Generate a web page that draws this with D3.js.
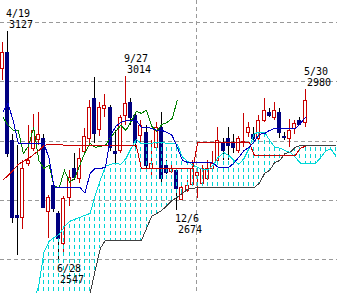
<!DOCTYPE html>
<html lang="ja">
<head>
<meta charset="UTF-8">
<title>週足チャート 一目均衡表</title>
<script src="https://d3js.org/d3.v7.min.js"></script>
<style>
  body { margin: 0; background: #fff; overflow: hidden; }
  svg { display: block; }
  .mark { font-family: "DejaVu Sans Mono", monospace; font-size: 10px; fill: #000; }
</style>
</head>
<body>
<div id="chart"></div>
<script>
const width = 337, height = 293;

// weekly candles, index 0 = the week before 4/19
const opens  = [3033, 3073, 2851, 2661, 2656, 2793, 2831, 2853, 2856, 2671,
                2737, 2666, 2590, 2707, 2780, 2755, 2825, 2856, 2957, 2879,
                2932, 2934, 2825, 2825, 2914, 2947, 2914, 2863, 2871, 2780,
                2833, 2884, 2788, 2775, 2775, 2704, 2724, 2742, 2762, 2745,
                2755, 2780, 2800, 2843, 2856, 2846, 2825, 2846, 2871, 2866,
                2856, 2901, 2922, 2909, 2922, 2861, 2856, 2881, 2901, 2896];
const highs  = [3099, 3127, 2868, 2838, 2800, 2889, 2917, 2922, 2868, 2712,
                2742, 2671, 2709, 2775, 2818, 2831, 2881, 2952, 3010, 2947,
                2967, 2939, 2876, 2914, 3014, 2957, 2922, 2901, 2889, 2851,
                2896, 2922, 2800, 2788, 2782, 2742, 2750, 2800, 2780, 2788,
                2800, 2825, 2884, 2856, 2884, 2868, 2863, 2919, 2896, 2884,
                2914, 2957, 2932, 2947, 2932, 2871, 2906, 2901, 2911, 2980];
const lows   = [3003, 2808, 2643, 2560, 2626, 2785, 2825, 2838, 2679, 2603,
                2669, 2547, 2565, 2686, 2750, 2742, 2813, 2838, 2843, 2863,
                2909, 2825, 2793, 2820, 2889, 2889, 2831, 2846, 2780, 2757,
                2825, 2742, 2765, 2767, 2674, 2699, 2719, 2737, 2704, 2737,
                2750, 2770, 2788, 2800, 2800, 2818, 2820, 2833, 2858, 2851,
                2851, 2896, 2909, 2901, 2856, 2851, 2833, 2868, 2889, 2884];
const closes = [3073, 2818, 2656, 2656, 2780, 2800, 2876, 2866, 2681, 2707,
                2679, 2603, 2704, 2757, 2757, 2805, 2863, 2934, 2868, 2934,
                2939, 2833, 2820, 2909, 2944, 2909, 2846, 2889, 2788, 2793,
                2884, 2755, 2770, 2782, 2729, 2734, 2737, 2782, 2770, 2782,
                2780, 2793, 2851, 2825, 2838, 2833, 2856, 2848, 2884, 2856,
                2901, 2927, 2914, 2927, 2871, 2858, 2876, 2894, 2891, 2952];

// 転換線 (blue) and 基準線 (red), one value per week
const tenkan = [2922, 2944, 2901, 2843, 2843, 2843, 2843, 2843, 2843, 2805,
                2732, 2732, 2732, 2732, 2732, 2732, 2717, 2767, 2780, 2780,
                2782, 2863, 2886, 2896, 2901, 2901, 2901, 2884, 2884, 2881,
                2876, 2876, 2871, 2863, 2833, 2800, 2795, 2795, 2795, 2795,
                2795, 2793, 2782, 2782, 2782, 2793, 2808, 2825, 2833, 2848,
                2866, 2868, 2876, 2881, 2881, 2881, 2881, 2881, 2894, 2909];
const kijun  = [2750, 2762, 2775, 2790, 2798, 2805, 2815, 2825, 2838, 2841,
                2841, 2841, 2838, 2838, 2838, 2838, 2838, 2838, 2838, 2838,
                2838, 2838, 2838, 2838, 2838, 2838, 2838, 2780, 2780, 2780,
                2780, 2780, 2780, 2780, 2780, 2780, 2780, 2780, 2846, 2846,
                2846, 2846, 2846, 2846, 2846, 2846, 2846, 2846, 2846, 2813,
                2813, 2813, 2813, 2813, 2813, 2813, 2813, 2813, 2831, 2836];

// 遅行スパン (green), drawn from week 0 on
const chikou = [2909, 2889, 2876, 2876, 2818, 2836, 2884, 2800, 2780, 2788,
                2734, 2732, 2775, 2745, 2755, 2788, 2820, 2843, 2833, 2836,
                2838, 2858, 2874, 2889, 2876, 2899, 2924, 2919, 2927, 2886,
                2874, 2891, 2896, 2906, 2952];

// 先行スパン1 (cyan) from week 6, 先行スパン2 (dark) from week 16
const spanAStart = 6;
const spanA = [2446, 2484, 2567, 2595, 2605, 2613, 2633, 2646, 2651, 2656,
               2661, 2666, 2712, 2750, 2785, 2790, 2793, 2790, 2805, 2831,
               2853, 2843, 2843, 2843, 2846, 2846, 2843, 2843, 2841, 2808,
               2798, 2788, 2782, 2777, 2777, 2788, 2808, 2820, 2813, 2800,
               2790, 2805, 2831, 2868, 2871, 2871, 2851, 2833, 2831, 2825,
               2820, 2808, 2793, 2793, 2793, 2793, 2808, 2825, 2828, 2808];
const spanBStart = 16;
const spanB = [2421, 2464, 2522, 2578, 2598, 2598, 2598, 2598, 2598, 2598,
               2598, 2598, 2628, 2659, 2666, 2674, 2686, 2699, 2707, 2717,
               2727, 2729, 2732, 2732, 2732, 2732, 2732, 2732, 2732, 2732,
               2732, 2732, 2732, 2732, 2742, 2767, 2775, 2795, 2800, 2818,
               2820, 2833, 2838, 2838, 2838, 2838, 2838, 2838, 2838, 2838];

const gridPrices = [2550, 2700, 2850, 3000, 3150];
const yearBreak = 37.5;   // between 12/27 and 1/3

const markIdx    = [1, 11, 24, 34, 59];
const markDates  = ["4/19", "6/28", "9/27", "12/6", "5/30"];
const markPrices = [3127, 2547, 3014, 2674, 2980];
const markSide   = ["high", "low", "high", "low", "high"];

const svg = d3.select("#chart").append("svg")
    .attr("width", width)
    .attr("height", height)
    .style("background", "#fff");

svg.append("defs").append("clipPath").attr("id", "plot")
    .append("rect").attr("width", width).attr("height", height);

const x = d3.scaleLinear().domain([1, 59]).range([8, 305.6]);
const y = d3.scaleLinear().domain([2550, 3150]).range([259.3, 22]);
const col = i => Math.round(x(i));

// grid
const grid = svg.append("g")
    .attr("stroke", "#999")
    .attr("stroke-dasharray", "4,3")
    .attr("shape-rendering", "crispEdges");

grid.selectAll("line.h")
    .data(gridPrices)
    .join("line")
    .attr("class", "h")
    .attr("x1", 0).attr("x2", width)
    .attr("y1", d => Math.round(y(d)) + 0.5)
    .attr("y2", d => Math.round(y(d)) + 0.5);

grid.append("line")
    .attr("x1", Math.round(x(yearBreak)) + 1.5)
    .attr("x2", Math.round(x(yearBreak)) + 1.5)
    .attr("y1", 0).attr("y2", height);

// candles
const candles = opens.map((o, i) => ({
    i, o, h: highs[i], l: lows[i], c: closes[i], up: closes[i] >= o
}));

const cg = svg.append("g").attr("shape-rendering", "crispEdges");

cg.selectAll("line")
    .data(candles)
    .join("line")
    .attr("x1", d => col(d.i) - 0.5)
    .attr("x2", d => col(d.i) - 0.5)
    .attr("y1", d => Math.round(y(d.h)))
    .attr("y2", d => Math.round(y(d.l)))
    .attr("stroke", d => d.up ? "#c80000" : "#000");

cg.selectAll("rect")
    .data(candles)
    .join("rect")
    .attr("x", d => col(d.i) - 2.5)
    .attr("width", 3)
    .attr("y", d => Math.round(y(Math.max(d.o, d.c))) + 0.5)
    .attr("height", d => Math.max(1, Math.round(Math.abs(y(d.o) - y(d.c)))))
    .attr("fill", d => d.up ? "#fff" : "#000080")
    .attr("stroke", d => d.up ? "#c80000" : "#000080");

// cloud hatch: dashed verticals between the two spans
const hatch = spanA.map((a, n) => {
    const k = n + spanAStart;
    const b = spanB[k - spanBStart];
    const ya = y(a);
    const yb = b === undefined ? height : y(b);
    return {
        k,
        top: Math.max(0, Math.round(Math.min(ya, yb))),
        bottom: Math.min(height, Math.round(Math.max(ya, yb)))
    };
}).filter(d => d.bottom - d.top > 1 && x(d.k) < width);

svg.append("g")
    .attr("stroke", "#00d4d4")
    .attr("stroke-dasharray", "4,3")
    .attr("shape-rendering", "crispEdges")
    .selectAll("line")
    .data(hatch)
    .join("line")
    .attr("x1", d => col(d.k) - 0.5)
    .attr("x2", d => col(d.k) - 0.5)
    .attr("y1", d => d.top)
    .attr("y2", d => d.bottom)
    .attr("stroke-dashoffset", d => d.top % 7);

// indicator lines
const line = d3.line().x(d => x(d.i)).y(d => y(d.v));
const series = [
    { pts: spanB.map((v, n) => ({ i: n + spanBStart, v })), color: "#404040" },
    { pts: spanA.map((v, n) => ({ i: n + spanAStart, v })), color: "#00d8d8" },
    { pts: chikou.map((v, i) => ({ i, v })), color: "#008000" },
    { pts: kijun.map((v, i) => ({ i, v })), color: "#c80000" },
    { pts: tenkan.map((v, i) => ({ i, v })), color: "#0000c0" }
];

svg.append("g")
    .attr("clip-path", "url(#plot)")
    .selectAll("path")
    .data(series)
    .join("path")
    .attr("d", d => line(d.pts))
    .attr("fill", "none")
    .attr("stroke", d => d.color)
    .attr("stroke-width", 1)
    .attr("shape-rendering", "crispEdges");

// high / low marks
const marks = markIdx.map((i, n) => ({
    cx: col(i), py: y(markPrices[n]), date: markDates[n], price: markPrices[n], side: markSide[n]
}));

const mg = svg.append("g");
marks.forEach(m => {
    const b1 = m.side === "high" ? m.py - 14 : m.py + 12;
    const b2 = m.side === "high" ? m.py - 3 : m.py + 23;
    mg.append("text").attr("class", "mark")
        .attr("x", m.cx - 2).attr("y", Math.round(b1)).text(m.date);
    mg.append("text").attr("class", "mark")
        .attr("x", m.cx + 1).attr("y", Math.round(b2)).text(m.price);
});
</script>
</body>
</html>
